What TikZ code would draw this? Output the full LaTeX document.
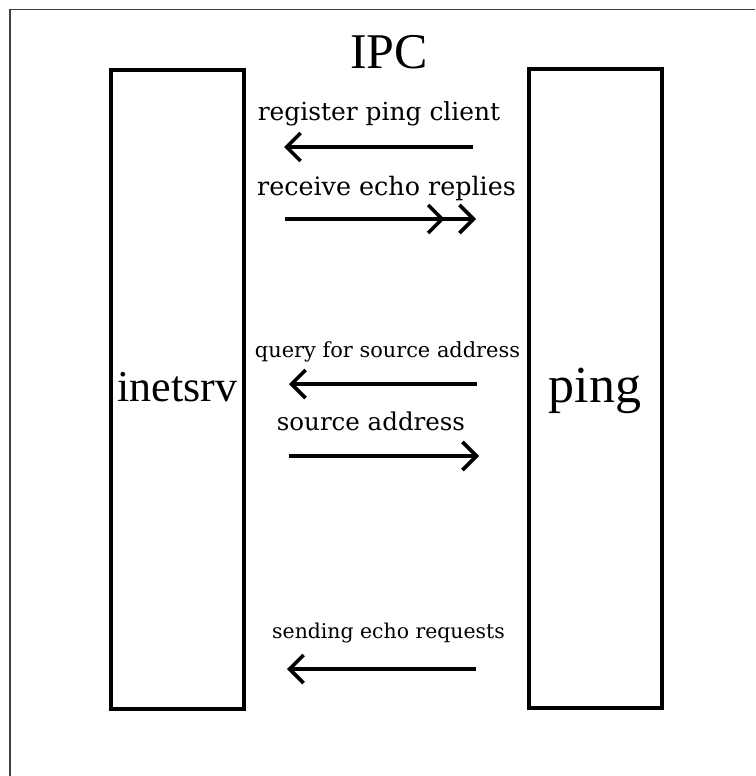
\documentclass[tikz,border=0pt]{standalone}
\usepackage{fontspec}
\setmainfont{DejaVu Serif}
\newfontfamily\titleserif{Liberation Serif}
\usetikzlibrary{arrows.meta}
\begin{document}
\begin{tikzpicture}[x=1pt,y=-1pt,
  process/.style={draw, line width=4pt, inner sep=0pt, minimum width=133pt,
                  minimum height=639pt, font=\titleserif},
  msg/.style={inner sep=0pt, anchor=base},
  flow/.style={line width=3.6pt, -{Straight Barb[length=14pt,width=28pt]}},
  replyflow/.style={line width=3.6pt,
    -{Straight Barb[length=14pt,width=28pt,sep=13pt]Straight Barb[length=14pt,width=28pt]}}]
\useasboundingbox (0,0) rectangle (755,776);

% page frame (open to the right and bottom)
\draw[black!75, line width=1.6pt] (10,776) -- (10,9.5) -- (755,9.5);

% title
\node[msg, font=\titleserif\fontsize{50pt}{60pt}\selectfont] (title) at (389,69) {IPC};

% the two processes
\node[process, text height=23pt, text depth=0pt,
      font=\titleserif\fontsize{44pt}{50pt}\selectfont] (inetsrv) at (177.5,389.5) {inetsrv};
\node[process, text height=27pt, text depth=0pt,
      font=\titleserif\fontsize{52pt}{60pt}\selectfont] (ping) at (595,388.5) {ping};

% message labels
\node[msg, font=\fontsize{24.9pt}{30pt}\selectfont] (m1) at (379,120) {register ping client};
\node[msg, font=\fontsize{25.4pt}{30pt}\selectfont] (m2) at (386.5,195) {receive echo replies};
\node[msg, font=\fontsize{20.9pt}{26pt}\selectfont] (m3) at (387.5,357) {query for source address};
\node[msg, font=\fontsize{24.5pt}{30pt}\selectfont] (m4) at (371,430) {source address};
\node[msg, font=\fontsize{20.4pt}{26pt}\selectfont] (m5) at (388.5,638) {sending echo requests};

% message arrows
\coordinate (a1s) at (473,147);  \coordinate (a1e) at (284,147);
\coordinate (a2s) at (285,219);  \coordinate (a2e) at (476,219);
\coordinate (a3s) at (477,384);  \coordinate (a3e) at (289,384);
\coordinate (a4s) at (289,456);  \coordinate (a4e) at (479,456);
\coordinate (a5s) at (476,669);  \coordinate (a5e) at (287,669);

\draw[flow] (a1s) -- (a1e);
\draw[replyflow] (a2s) -- (a2e);
\draw[flow] (a3s) -- (a3e);
\draw[flow] (a4s) -- (a4e);
\draw[flow] (a5s) -- (a5e);
\end{tikzpicture}
\end{document}
